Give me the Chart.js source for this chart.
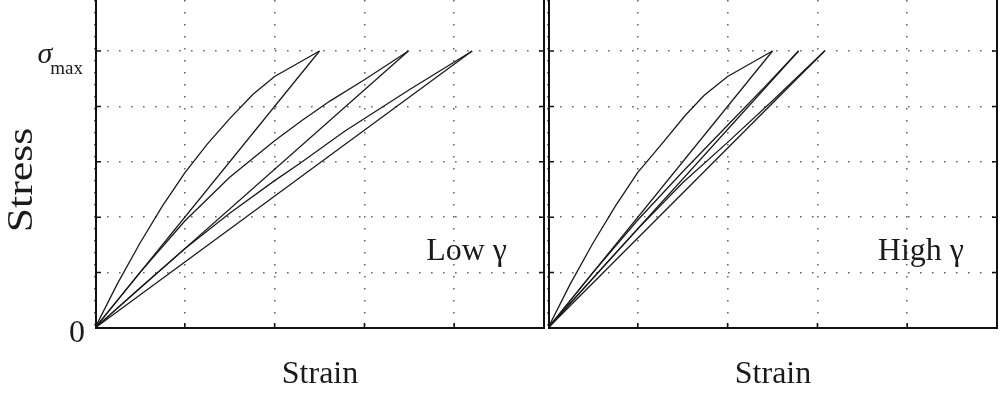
<!DOCTYPE html>
<html>
<head>
<meta charset="utf-8">
<script src="https://cdn.jsdelivr.net/npm/chart.js@4.4.1/dist/chart.umd.min.js"></script>
<style>
  html, body { margin: 0; padding: 0; background: #fff; }
  #wrap { position: relative; width: 1000px; height: 395px; overflow: hidden; background: #fff; }
  #wrap canvas { position: absolute; left: 0; top: 0; }
</style>
</head>
<body>
<div id="wrap">
  <canvas id="lowGamma" width="1000" height="395"></canvas>
  <canvas id="highGamma" width="1000" height="395"></canvas>
</div>
<script>
// ---- curve data: [strain, stress] pairs in grid units, sigma_max = 5 ----
// Low gamma: three load / unload cycles
const lowLoading1   = [[0,0],[0.25,0.8],[0.5,1.53],[0.75,2.2],[1.0,2.8],[1.25,3.32],[1.5,3.78],[1.76,4.22],[2.0,4.54],[2.25,4.77],[2.5,5.0]];
const lowUnloading1 = [[2.5,5.0],[0,0]];
const lowLoading2   = [[0,0],[0.5,1.0],[1.0,1.93],[1.5,2.72],[2.0,3.38],[2.3,3.74],[2.62,4.1],[3.0,4.48],[3.49,5.0]];
const lowUnloading2 = [[3.49,5.0],[0,0]];
const lowLoading3   = [[0,0],[0.5,0.72],[1.0,1.43],[1.5,2.07],[2.0,2.66],[2.28,2.97],[2.78,3.55],[3.5,4.3],[4.2,5.0]];
const lowUnloading3 = [[4.2,5.0],[0,0]];

// High gamma: three load / unload cycles
const highLoading1   = [[0,0],[0.25,0.8],[0.5,1.53],[0.75,2.2],[1.0,2.81],[1.24,3.27],[1.53,3.84],[1.74,4.2],[2.0,4.54],[2.25,4.77],[2.5,5.0]];
const highUnloading1 = [[2.5,5.0],[0,0]];
const highLoading2   = [[0,0],[0.5,1.0],[1.0,1.95],[1.5,2.82],[2.0,3.66],[2.4,4.33],[2.79,5.0]];
const highUnloading2 = [[2.79,5.0],[0,0]];
const highLoading3   = [[0,0],[0.5,0.9],[1.0,1.79],[1.5,2.62],[2.0,3.35],[2.5,4.1],[3.08,5.0]];
const highUnloading3 = [[3.08,5.0],[0,0]];

// ---- axes and labels ----
const strainTickValues = [0, 1, 2, 3, 4, 5];
const stressTickValues = [0, 1, 2, 3, 4, 5];
const stressLabelValues = [0, 5];
const stressLabelMain = ['0', 'σ'];
const stressLabelSub = ['', 'max'];
const xAxisTitle = 'Strain';
const yAxisTitle = 'Stress';
const panelNames = ['Low γ', 'High γ'];

const SERIF = '"Liberation Serif", "Times New Roman", serif';
const INK = '#1b1b1b';

function toXY(pairs) {
  return pairs.map(p => ({ x: p[0], y: p[1] }));
}

function curve(pairs) {
  return {
    data: toXY(pairs),
    showLine: true,
    borderColor: INK,
    borderWidth: 1.3,
    pointRadius: 0,
    pointHoverRadius: 0,
    fill: false,
    tension: 0
  };
}

// frame, inward tick marks and all text of one panel
const panelFrame = {
  id: 'panelFrame',
  afterDraw(chart, args, o) {
    const { ctx, chartArea: a, scales } = chart;
    const xs = scales.x, ys = scales.y;
    const left = a.left + 1, right = a.right, bottom = a.bottom;
    ctx.save();

    // solid frame: left, bottom, right
    ctx.strokeStyle = '#111';
    ctx.lineWidth = 2;
    ctx.beginPath();
    ctx.moveTo(left, 0);
    ctx.lineTo(left, bottom);
    ctx.lineTo(right, bottom);
    ctx.lineTo(right, 0);
    ctx.stroke();

    // tick marks pointing into the plot
    ctx.lineWidth = 1.5;
    ctx.beginPath();
    strainTickValues.slice(1, -1).forEach(v => {
      const px = xs.getPixelForValue(v);
      ctx.moveTo(px, bottom);
      ctx.lineTo(px, bottom - 5);
    });
    stressTickValues.slice(1).forEach(v => {
      const py = ys.getPixelForValue(v);
      ctx.moveTo(left, py);
      ctx.lineTo(left + 5, py);
      ctx.moveTo(right, py);
      ctx.lineTo(right - 5, py);
    });
    ctx.stroke();

    ctx.fillStyle = INK;
    ctx.textBaseline = 'alphabetic';

    // x axis title
    ctx.font = '32px ' + SERIF;
    ctx.textAlign = 'center';
    ctx.fillText(xAxisTitle, (a.left + a.right) / 2 + 0.5, bottom + 55);

    // panel name
    ctx.textAlign = 'right';
    ctx.fillText(o.name, right - o.nameInset, ys.getPixelForValue(1.22));

    if (o.stressLabels) {
      // stress tick labels
      stressLabelValues.forEach((v, i) => {
        const py = ys.getPixelForValue(v);
        const sub = stressLabelSub[i];
        if (sub) {
          ctx.font = '19px ' + SERIF;
          ctx.textAlign = 'right';
          const subRight = a.left - 12;
          ctx.fillText(sub, subRight, py + 23);
          const subW = ctx.measureText(sub).width;
          ctx.font = 'italic 30px ' + SERIF;
          ctx.fillText(stressLabelMain[i], subRight - subW + 2, py + 12);
        } else {
          ctx.font = '32px ' + SERIF;
          ctx.textAlign = 'right';
          ctx.fillText(stressLabelMain[i], a.left - 10, py + 14);
        }
      });

      // y axis title, rotated
      ctx.save();
      ctx.translate(21.5, bottom - 148);
      ctx.rotate(-Math.PI / 2);
      ctx.font = '35px ' + SERIF;
      ctx.textAlign = 'center';
      ctx.textBaseline = 'middle';
      ctx.scale(1.25, 1);
      ctx.fillText(yAxisTitle, 0, 1);
      ctx.restore();
    }
    ctx.restore();
  }
};

function makePanel(canvasId, curves, padding, frameOpts) {
  return new Chart(document.getElementById(canvasId), {
    type: 'scatter',
    data: { datasets: curves.map(curve) },
    options: {
      responsive: false,
      animation: false,
      devicePixelRatio: 1,
      layout: { padding },
      plugins: {
        legend: { display: false },
        tooltip: { enabled: false },
        panelFrame: frameOpts
      },
      events: [],
      scales: {
        x: {
          type: 'linear',
          min: 0,
          max: 5,
          afterBuildTicks: s => { s.ticks = strainTickValues.map(v => ({ value: v })); },
          ticks: { display: false },
          grid: { color: '#6a6a6a', lineWidth: 1.6, drawTicks: false },
          border: { display: false, dash: [1.6, 10.4] }
        },
        y: {
          type: 'linear',
          min: 0,
          max: 5.92,
          afterBuildTicks: s => { s.ticks = stressTickValues.map(v => ({ value: v })); },
          ticks: { display: false },
          grid: { color: '#6a6a6a', lineWidth: 1.6, drawTicks: false },
          border: { display: false, dash: [1.6, 10.4] }
        }
      }
    },
    plugins: [panelFrame]
  });
}

makePanel('lowGamma',
  [lowLoading1, lowUnloading1, lowLoading2, lowUnloading2, lowLoading3, lowUnloading3],
  { left: 95, right: 456, top: 0, bottom: 67 },
  { name: panelNames[0], nameInset: 37, stressLabels: true });

makePanel('highGamma',
  [highLoading1, highUnloading1, highLoading2, highUnloading2, highLoading3, highUnloading3],
  { left: 548, right: 3, top: 0, bottom: 67 },
  { name: panelNames[1], nameInset: 33, stressLabels: false });
</script>
</body>
</html>
